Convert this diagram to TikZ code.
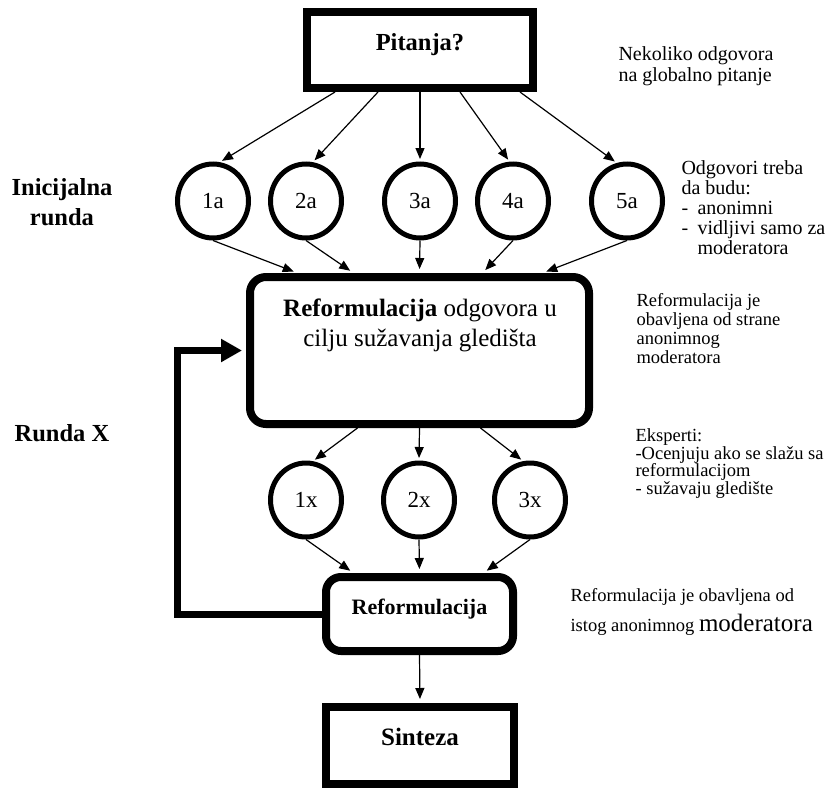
\documentclass[tikz,border=0pt]{standalone}
\usepackage{fontspec}
\setmainfont{Liberation Serif}
\usetikzlibrary{arrows.meta,shapes.geometric}

\begin{document}
\begin{tikzpicture}[x=1pt,y=1pt,yscale=-1,xscale=1,
  thin arrow/.style={-{Triangle[length=11pt,width=9pt]},line width=1.2pt},
  thick box/.style={draw,line width=8pt,inner sep=0pt},
  answer/.style={draw,ellipse,line width=5pt,minimum width=71pt,minimum height=74pt,inner sep=0pt,font=\fontsize{23}{23}\selectfont},
  note/.style={anchor=west,align=left,font=\fontsize{18.5}{19}\selectfont},
  round label/.style={align=center,font=\bfseries\fontsize{24.5}{30}\selectfont}]
\useasboundingbox (0,0) rectangle (832,790);


%Question box
\node[thick box,minimum width=226pt,minimum height=76pt,text height=18pt,text depth=18pt,font=\bfseries\fontsize{24.5}{26}\selectfont] (pitanja) at (420,50) {Pitanja?};


%Initial answers
\node[answer] (odg1) at (213,201) {1a};
\node[answer] (odg2) at (306,201) {2a};
\node[answer] (odg3) at (420,201) {3a};
\node[answer] (odg4) at (513,201) {4a};
\node[answer] (odg5) at (627,201) {5a};

\draw[thin arrow,shorten >=2.5pt] ([xshift=-85pt]pitanja.south) -- (odg1.80);
\draw[thin arrow,shorten >=2.5pt] ([xshift=-42pt]pitanja.south) -- (odg2.80);
\draw[thin arrow,shorten >=2.5pt] (pitanja.south) -- (odg3.north);
\draw[thin arrow,shorten >=2.5pt] ([xshift=40pt]pitanja.south) -- (odg4.95);
\draw[thin arrow,shorten >=2.5pt] ([xshift=100pt]pitanja.south) -- (odg5.105);


%Reformulation box
\node[thick box,rounded corners=16pt,minimum width=339pt,minimum height=147pt] (refbox) at (419.5,350.5) {};
\node[align=center,font=\fontsize{25}{30}\selectfont] (reftext) at (420,325) {\textbf{Reformulacija} odgovora u\\cilju sužavanja gledišta};

\draw[thin arrow,shorten >=4pt] (odg1.south) -- ([xshift=-122pt]refbox.north);
\draw[thin arrow,shorten >=4pt] (odg2.south) -- ([xshift=-66pt]refbox.north);
\draw[thin arrow,shorten >=4pt] (odg3.south) -- (refbox.north);
\draw[thin arrow,shorten >=4pt] (odg4.south) -- ([xshift=63pt]refbox.north);
\draw[thin arrow,shorten >=4pt] (odg5.south) -- ([xshift=123pt]refbox.north);


%Round X answers
\node[answer] (ocj1) at (306,500) {1x};
\node[answer] (ocj2) at (419,500) {2x};
\node[answer] (ocj3) at (530,500) {3x};

\draw[thin arrow,shorten >=2.5pt] ([xshift=-62pt]refbox.south) -- (ocj1.80);
\draw[thin arrow,shorten >=2.5pt] (refbox.south) -- (ocj2.north);
\draw[thin arrow,shorten >=2.5pt] ([xshift=61pt]refbox.south) -- (ocj3.100);


%Second reformulation
\node[thick box,rounded corners=15pt,minimum width=187pt,minimum height=74pt,text height=16pt,text depth=16pt,font=\bfseries\fontsize{22}{24}\selectfont] (malibox) at (419.5,614) {Reformulacija};

\draw[thin arrow,shorten >=4pt] (ocj1.south) -- ([xshift=-66pt]malibox.north);
\draw[thin arrow,shorten >=4pt] (ocj2.south) -- (malibox.north);
\draw[thin arrow,shorten >=4pt] (ocj3.south) -- ([xshift=64pt]malibox.north);


%Synthesis
\node[thick box,minimum width=188pt,minimum height=77pt,text height=18pt,text depth=18pt,font=\bfseries\fontsize{25}{27}\selectfont] (sinteza) at (420,745.5) {Sinteza};

\draw[thin arrow,shorten >=4pt] (malibox.south) -- (sinteza.north);


%Feedback loop
\coordinate (povratak) at (177,350.5);
\draw[line width=7pt,-{Triangle[length=21pt,width=22pt]},shorten >=4pt] (malibox.west) -| (povratak) -- (refbox.west);


%Round labels
\node[round label] (inicijalna) at (62,202) {Inicijalna\\runda};
\node[round label] (rundax) at (62,433) {Runda X};


%Notes
\node[note,font=\fontsize{20}{21}\selectfont] (napomena1) at (615,66.5) {Nekoliko odgovora\\na globalno pitanje};
\node[note,font=\fontsize{20}{20}\selectfont] (napomena2) at (678,208) {Odgovori treba\\da budu:\\\makebox[16pt][l]{-}anonimni\\\makebox[16pt][l]{-}vidljivi samo za\\\hspace*{16pt}moderatora};
\node[note] (napomena3) at (633,328.5) {Reformulacija je\\obavljena od strane\\anonimnog\\moderatora};
\node[note,font=\fontsize{18.5}{17.5}\selectfont] (napomena4) at (632,463.5) {Eksperti:\\-Ocenjuju ako se slažu sa\\reformulacijom\\- sužavaju gledište};
\node[note,font=\fontsize{18.5}{30}\selectfont] (napomena5) at (567,612) {Reformulacija je obavljena od\\istog anonimnog {\fontsize{25}{30}\selectfont moderatora}};

\end{tikzpicture}
\end{document}
